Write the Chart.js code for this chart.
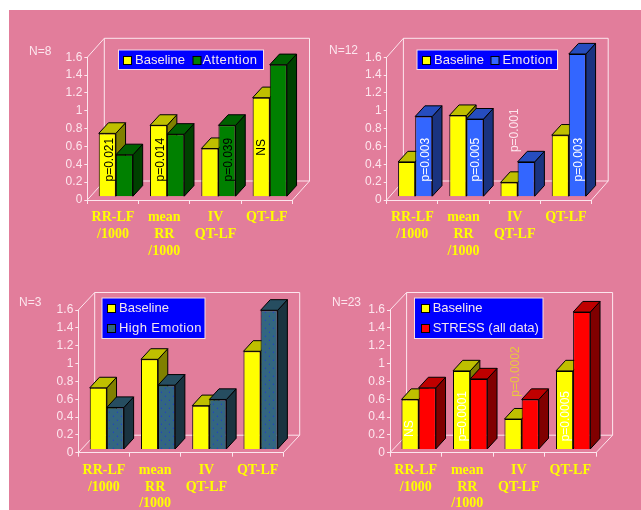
<!DOCTYPE html>
<html><head><meta charset="utf-8">
<script src="https://cdn.jsdelivr.net/npm/chart.js@4"></script>
<style>
html,body{margin:0;padding:0;background:#fff;width:641px;height:510px;overflow:hidden}
#bg{position:absolute;left:9px;top:10px;width:632px;height:500px;background:#e27d9b}
canvas{position:absolute;filter:blur(0.35px)}
</style></head><body><div id="bg"></div>
<canvas id="c1" style="left:9px;top:10px;width:311px;height:260px" width="311" height="260"></canvas>
<canvas id="c2" style="left:320px;top:10px;width:321px;height:260px" width="321" height="260"></canvas>
<canvas id="c3" style="left:9px;top:270px;width:311px;height:240px" width="311" height="240"></canvas>
<canvas id="c4" style="left:320px;top:270px;width:321px;height:240px" width="321" height="240"></canvas>
<script>
const categories = [['RR-LF','/1000'],['mean','RR','/1000'],['IV','QT-LF'],['QT-LF']];
const yTicks = [0,0.2,0.4,0.6,0.8,1,1.2,1.4,1.6];
const baselineLabel = 'Baseline';
const secondLabels = ['Attention','Emotion','High Emotion','STRESS (all data)'];
const nLabels = ['N=8','N=12','N=3','N=23'];
const baselineA = [0.71,0.80,0.54,1.11];
const attention = [0.47,0.70,0.80,1.48];
const baselineB = [0.39,0.91,0.16,0.69];
const emotion   = [0.90,0.87,0.39,1.60];
const baselineC = [0.69,1.01,0.49,1.10];
const highEmotion = [0.47,0.72,0.56,1.56];
const baselineD = [0.56,0.88,0.34,0.88];
const stress    = [0.69,0.79,0.56,1.54];

function dotted(){
  const p=document.createElement('canvas');p.width=8;p.height=8;
  const g=p.getContext('2d');g.fillStyle='#336680';g.fillRect(0,0,8,8);
  g.fillStyle='#1a33e0';g.fillRect(1,1,1,1);g.fillRect(5,5,1,1);
  return g.createPattern(p,'repeat');
}
const AXIS='#fde6ee';
const PLANE={x:2.9,y:-3.3};
const DEPTH={x:9.7,y:-10.6};
const panels=[
 {id:'c1',cx:9,cy:10,w:311,h:260,ax:87.3,y0:200,top:57.3,right:292.5,back:{x:17,y:-19},
  base:baselineA,other:attention,face:'#008000',topc:'#006000',side:'#004000',idx:0,
  n:{x:29,y:52},spacing:0.4,
  legend:{x:118.5,y:50,w:145,h:19.5,rows:[[123,60,135],[192.5,60,202.5]]},
  notes:[{s:0,c:0,t:'p=0.021',v:0.17,dx:2,col:'#000'},{s:0,c:1,t:'p=0.014',v:0.17,dx:2,col:'#000'},{s:1,c:2,t:'p=0.039',v:0.17,dx:2,col:'#000'},{s:0,c:3,t:'NS',v:0.46,dx:0,col:'#000'}]},
 {id:'c2',cx:320,cy:10,w:321,h:260,ax:386.7,y0:200,top:57.3,right:591.5,back:{x:16.7,y:-19},
  base:baselineB,other:emotion,face:'#3366ff',topc:'#264dbf',side:'#1a3380',idx:1,
  n:{x:329,y:50.5},spacing:0.4,
  legend:{x:417,y:50,w:140.5,h:19.5,rows:[[422,60,434],[490.5,60,502.5]]},
  notes:[{s:1,c:0,t:'p=0.003',v:0.17,dx:2,col:'#fff'},{s:1,c:1,t:'p=0.005',v:0.17,dx:1,col:'#fff'},{s:1,c:2,t:'p=0.001',v:0.50,dx:-11,col:'#fde6ee'},{s:1,c:3,t:'p=0.003',v:0.17,dx:1,col:'#fff'}]},
 {id:'c3',cx:9,cy:270,w:311,h:240,ax:78.3,y0:452.7,top:310,right:283.3,back:{x:16.4,y:-17.5},
  base:baselineC,other:highEmotion,face:null,topc:'#264d60',side:'#1a3340',idx:2,
  n:{x:19,y:303},spacing:0.4,
  legend:{x:102,y:298,w:103,h:40.5,rows:[[107,308.5,119],[107,328,119]]},
  notes:[]},
 {id:'c4',cx:320,cy:270,w:321,h:240,ax:390,y0:452.7,top:310,right:596,back:{x:16.6,y:-17.5},
  base:baselineD,other:stress,face:'#ff0000',topc:'#bf0000',side:'#800000',idx:3,
  n:{x:332,y:303},spacing:0,
  legend:{x:414.5,y:298,w:128.5,h:40.5,rows:[[421,308.5,432.7],[421,328,432.7]]},
  notes:[{s:0,c:0,t:'NS',v:0.14,dx:0,col:'#fff'},{s:0,c:1,t:'p=0.0001',v:0.09,dx:1.5,col:'#fff'},{s:1,c:2,t:'p=0.0002',v:0.59,dx:-14.5,col:'#e8c83c'},{s:0,c:3,t:'p=0.0005',v:0.09,dx:1.5,col:'#fff'}]}
];

function extrude(ctx,b,topc,side){
  const l=b.x-b.width/2,r=b.x+b.width/2,t=b.y,bot=b.base,dx=DEPTH.x,dy=DEPTH.y;
  ctx.lineWidth=1;ctx.strokeStyle='#000';ctx.lineJoin='round';
  ctx.fillStyle=side;ctx.beginPath();ctx.moveTo(r,t);ctx.lineTo(r+dx,t+dy);ctx.lineTo(r+dx,bot+dy);ctx.lineTo(r,bot);ctx.closePath();ctx.fill();ctx.stroke();
  ctx.fillStyle=topc;ctx.beginPath();ctx.moveTo(l,t);ctx.lineTo(l+dx,t+dy);ctx.lineTo(r+dx,t+dy);ctx.lineTo(r,t);ctx.closePath();ctx.fill();ctx.stroke();
}
const threeD={
 id:'threeD',
 beforeDatasetsDraw(chart,_a,o){
  const P=o.panel,ctx=chart.ctx,xs=chart.scales.x,ys=chart.scales.y;
  const L=xs.left,R=xs.right,B=ys.getPixelForValue(0),T=ys.getPixelForValue(1.6),d=P.back;
  ctx.save();ctx.strokeStyle=AXIS;ctx.lineWidth=1;ctx.beginPath();
  ctx.moveTo(L,T);ctx.lineTo(L+d.x,T+d.y);ctx.lineTo(R+d.x,T+d.y);ctx.lineTo(R+d.x,B+d.y);ctx.lineTo(L+d.x,B+d.y);ctx.lineTo(L+d.x,T+d.y);
  ctx.moveTo(L,B);ctx.lineTo(L+d.x,B+d.y);ctx.moveTo(R,B);ctx.lineTo(R+d.x,B+d.y);ctx.stroke();ctx.restore();
  ctx.save();ctx.translate(PLANE.x,PLANE.y);
  const cols=[['#bfbf00','#808000'],[P.topc,P.side]];
  [0,1].forEach(i=>chart.getDatasetMeta(i).data.forEach(b=>extrude(ctx,b,cols[i][0],cols[i][1])));
 },
 afterDatasetsDraw(chart,_a,o){
  const P=o.panel,ctx=chart.ctx,ys=chart.scales.y;
  ctx.restore();
  ctx.save();
  ctx.font='12px "Liberation Sans"';ctx.textAlign='left';ctx.textBaseline='middle';
  P.notes.forEach(n=>{
    const b=chart.getDatasetMeta(n.s).data[n.c];
    ctx.save();ctx.translate(b.x+PLANE.x+n.dx,ys.getPixelForValue(n.v)+PLANE.y);ctx.rotate(-Math.PI/2);
    ctx.fillStyle=n.col;ctx.fillText(n.t,0,0);ctx.restore();
  });
  ctx.restore();
 },
 afterDraw(chart,_a,o){
  const P=o.panel,ctx=chart.ctx,ox=P.cx,oy=P.cy;
  ctx.save();ctx.translate(-ox,-oy);
  ctx.fillStyle=AXIS;ctx.font='12px "Liberation Sans"';ctx.textBaseline='middle';ctx.textAlign='left';
  ctx.fillText(nLabels[P.idx],P.n.x,P.n.y);
  const g=P.legend;
  ctx.fillStyle='#0000ff';ctx.fillRect(g.x,g.y,g.w,g.h);
  ctx.strokeStyle='#f6dce6';ctx.lineWidth=1;ctx.strokeRect(g.x,g.y,g.w,g.h);
  ctx.font='13px "Liberation Sans"';
  chart.data.datasets.forEach((ds,i)=>{
    const [sx,sy,tx]=g.rows[i];
    ctx.fillStyle=ds.backgroundColor;ctx.fillRect(sx+0.5,Math.round(sy-4.5)+0.5,8,8);
    ctx.strokeStyle='#000';ctx.strokeRect(sx+0.5,Math.round(sy-4.5)+0.5,8,8);
    ctx.fillStyle='#f4e6ee';ctx.letterSpacing=i===0?'0px':(P.spacing+'px');
    ctx.fillText(ds.label,tx,sy);
  });
  ctx.letterSpacing='0px';
  ctx.restore();
 }
};
panels.forEach(P=>{
  const face=P.face||dotted();
  const common={borderColor:'#000',borderWidth:1,categoryPercentage:0.667,barPercentage:1,clip:false};
  new Chart(document.getElementById(P.id),{
    type:'bar',
    data:{labels:categories,datasets:[
      {label:baselineLabel,data:P.base,backgroundColor:'#ffff00',...common},
      {label:secondLabels[P.idx],data:P.other,backgroundColor:face,...common}
    ]},
    plugins:[threeD],
    options:{
      responsive:false,animation:false,devicePixelRatio:1,
      layout:{padding:{left:0,top:P.top-P.cy,right:P.cx+P.w-P.right,bottom:0}},
      plugins:{legend:{display:false},tooltip:{enabled:false},threeD:{panel:P}},
      scales:{
        x:{
          afterFit(s){s.height=P.cy+P.h-P.y0;},
          grid:{drawOnChartArea:false,color:AXIS,tickLength:4,offset:true},
          border:{color:AXIS,width:1},
          ticks:{color:'#ffff00',maxRotation:0,minRotation:0,autoSkip:false,padding:5.5,
            font:{family:'"Liberation Serif"',weight:'bold',size:14,lineHeight:1.19}}
        },
        y:{
          min:0,max:1.6,
          afterFit(s){s.width=P.ax-P.cx;},
          afterBuildTicks(s){s.ticks=yTicks.map(v=>({value:v}));},
          grid:{drawOnChartArea:false,color:AXIS,tickLength:3},
          border:{color:AXIS,width:1},
          ticks:{color:'#fde6ee',padding:2,font:{family:'"Liberation Sans"',size:12},callback:v=>String(v)}
        }
      }
    }
  });
});
</script></body></html>
